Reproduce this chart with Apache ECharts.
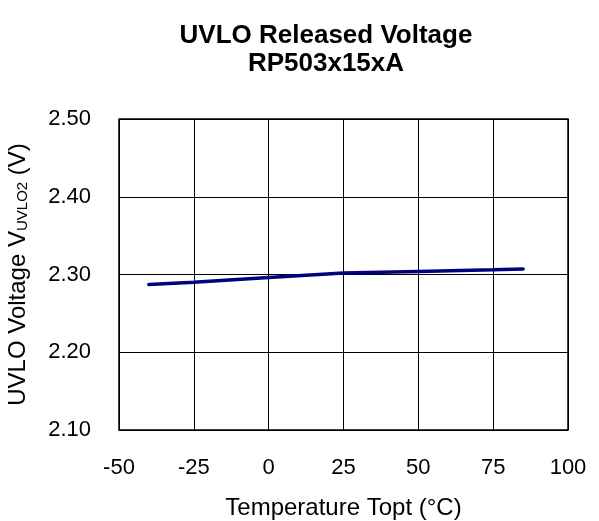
<!DOCTYPE html>
<html><head><meta charset="utf-8">
<script src="https://cdn.jsdelivr.net/npm/echarts@6/dist/echarts.min.js"></script>
<style>html,body{margin:0;padding:0;background:#fff}#c{width:599px;height:521px}</style>
</head><body><div id="c"></div>
<script>
const temps = [-40, -25, 0, 25, 50, 75, 85];
const voltage = [2.287, 2.290, 2.296, 2.302, 2.304, 2.306, 2.307];
const xTicks = [-50, -25, 0, 25, 50, 75, 100];
const yTicks = [2.10, 2.20, 2.30, 2.40, 2.50];
const titleLines = ['UVLO Released Voltage', 'RP503x15xA'];

const chart = echarts.init(document.getElementById('c'), null, {renderer: 'canvas'});
const font = 'Liberation Sans, Arial, sans-serif';
chart.setOption({
  animation: false,
  backgroundColor: '#fff',
  title: {
    text: titleLines.join('\n'),
    left: 321, top: 17, textAlign: 'center',
    textStyle: {fontFamily: font, fontSize: 26, fontWeight: 'bold', color: '#000', lineHeight: 28}
  },
  grid: {left: 119, right: 31, top: 119, bottom: 91, show: true, borderColor: '#000', borderWidth: 1.5,
         containLabel: false, outerBoundsMode: 'none'},
  xAxis: {
    type: 'value', min: xTicks[0], max: xTicks[xTicks.length - 1], interval: 25,
    name: 'Temperature Topt (°C)', nameLocation: 'middle', nameGap: 66,
    nameTextStyle: {fontFamily: font, fontSize: 24, color: '#000'},
    axisLine: {show: false}, axisTick: {show: false},
    axisLabel: {fontFamily: font, fontSize: 22, color: '#000', margin: 27},
    splitLine: {show: true, lineStyle: {color: '#000', width: 1}}
  },
  yAxis: {
    type: 'value', min: yTicks[0], max: yTicks[yTicks.length - 1], interval: 0.1,
    name: '{a|UVLO Voltage V}{s|UVLO2}{a| (V)}', nameLocation: 'middle', nameGap: 89, nameRotate: 90,
    nameTextStyle: {rich: {
      a: {fontFamily: font, fontSize: 24, color: '#000'},
      s: {fontFamily: font, fontSize: 15, color: '#000', verticalAlign: 'bottom', padding: [8, 0, 0, 0]}
    }},
    axisLine: {show: false}, axisTick: {show: false},
    axisLabel: {fontFamily: font, fontSize: 22, color: '#000', margin: 28, formatter: v => v.toFixed(2)},
    splitLine: {show: true, lineStyle: {color: '#000', width: 1}}
  },
  series: [{
    type: 'line', data: temps.map((t, i) => [t, voltage[i]]),
    showSymbol: false, lineStyle: {color: '#000080', width: 3.5, cap: 'round'}
  }]
});
</script></body></html>
